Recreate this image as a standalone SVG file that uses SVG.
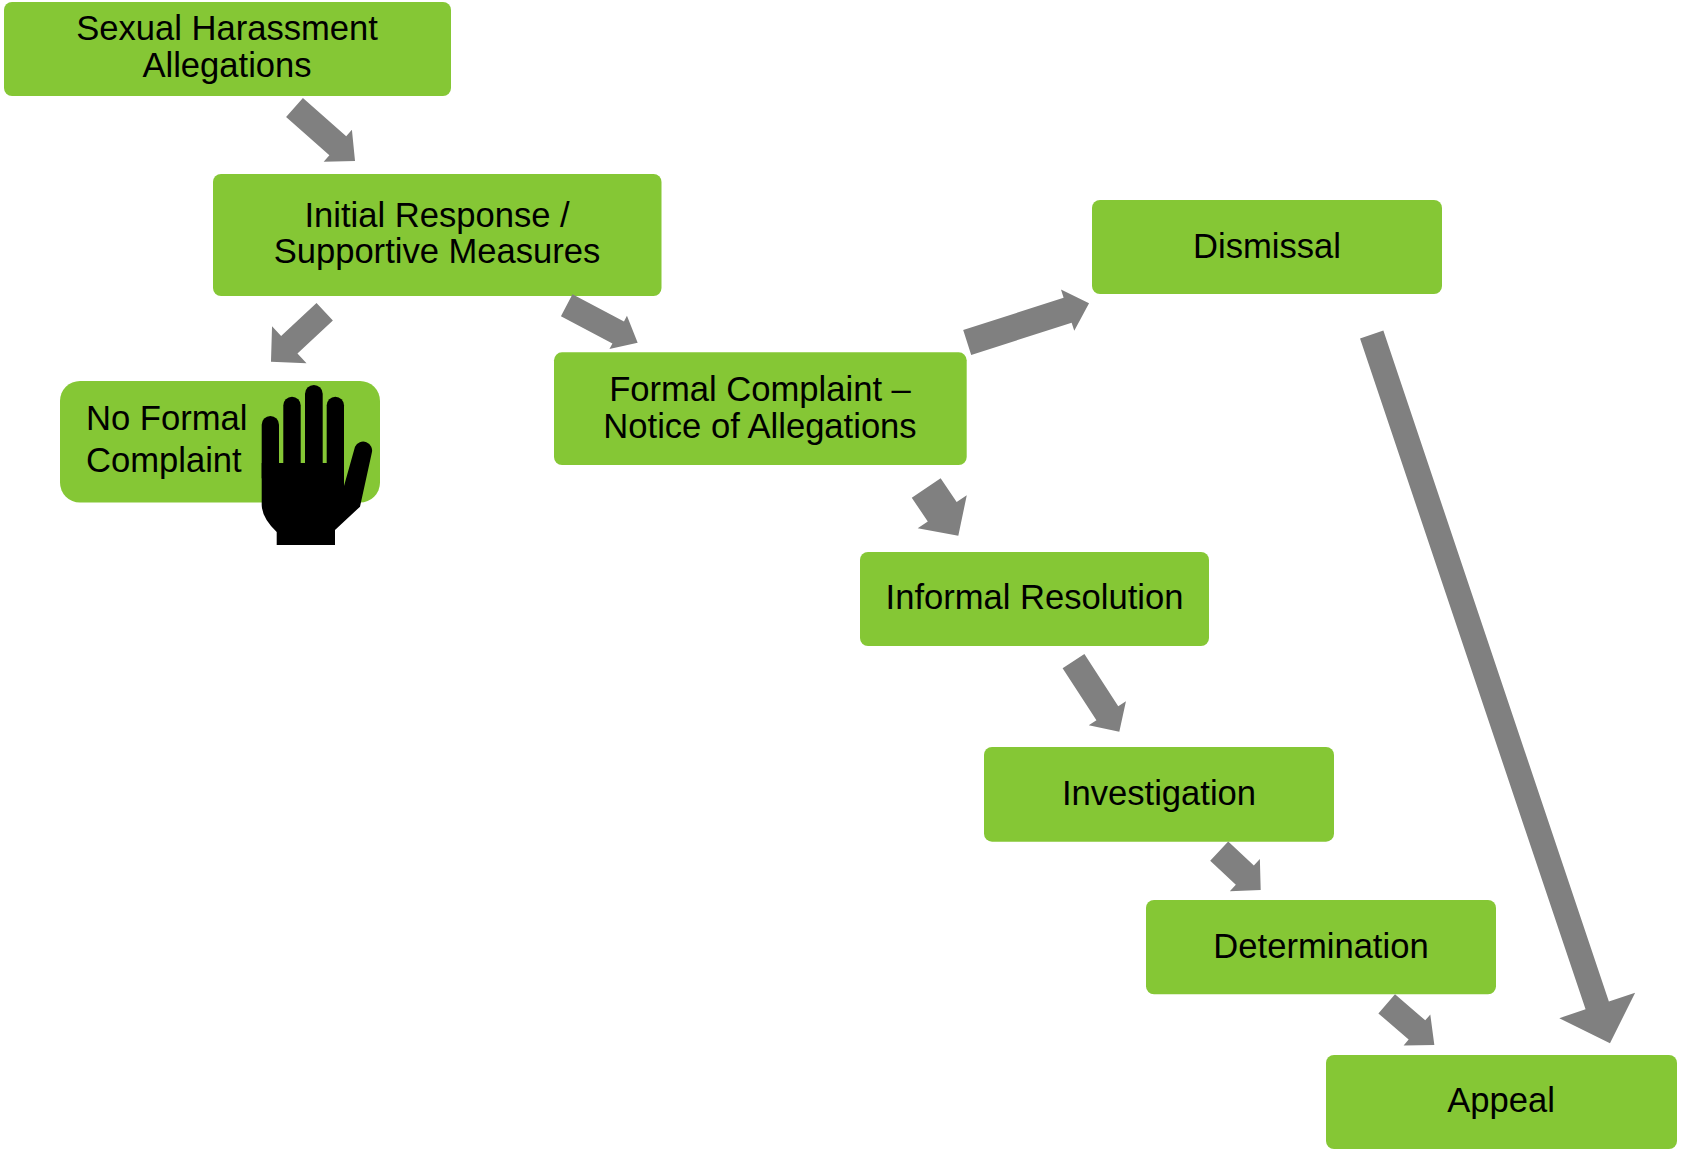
<svg xmlns="http://www.w3.org/2000/svg" width="1681" height="1153" viewBox="0 0 1681 1153">
<style>
.box{fill:#85C735;}
.t{font-family:"Liberation Sans",Arial,sans-serif;font-size:34.6px;fill:#000;text-anchor:middle;}
.tl{text-anchor:start;}
.arr{fill:#808080;}
</style>
<rect width="1681" height="1153" fill="#fff"/>
<g id="n-allegations">
<rect class="box" x="4" y="2" width="447" height="94" rx="8"/>
<text class="t" x="227" y="40">Sexual Harassment</text>
<text class="t" x="227" y="77">Allegations</text>
</g>
<g id="n-initial">
<rect class="box" x="213" y="174" width="448.5" height="122" rx="8"/>
<text class="t" x="437" y="226.7">Initial Response /</text>
<text class="t" x="437" y="263">Supportive Measures</text>
</g>
<g id="n-noformal">
<rect class="box" x="60" y="381" width="320" height="121.5" rx="20"/>
<text class="t tl" x="86" y="430">No Formal</text>
<text class="t tl" x="86" y="472">Complaint</text>
<g id="hand" fill="#000">
<rect x="261.7" y="416" width="17.3" height="70" rx="8.65"/>
<rect x="283.3" y="396.7" width="17.4" height="80" rx="8.7"/>
<rect x="305" y="385" width="17.7" height="90" rx="8.85"/>
<rect x="326.7" y="396.7" width="17.3" height="80" rx="8.65"/>
<path d="M261.7,463 L344,463 L344,486 L355,446.7 A9,9 0 0 1 371.7,453.3 L360,506.7 L335,530 L335,545 L276.7,545 L276.7,532 Q262,518 261.7,505 Z"/>
</g>
</g>
<g id="n-formal">
<rect class="box" x="554" y="352.3" width="412.7" height="112.7" rx="8"/>
<text class="t" x="760" y="401">Formal Complaint –</text>
<text class="t" x="760" y="437.5">Notice of Allegations</text>
</g>
<g id="n-dismissal">
<rect class="box" x="1092" y="200" width="350" height="94" rx="8"/>
<text class="t" x="1267" y="258">Dismissal</text>
</g>
<g id="n-informal">
<rect class="box" x="860" y="552" width="349" height="94" rx="8"/>
<text class="t" x="1034.5" y="609">Informal Resolution</text>
</g>
<g id="n-investigation">
<rect class="box" x="984" y="747" width="350" height="94.7" rx="8"/>
<text class="t" x="1159" y="805">Investigation</text>
</g>
<g id="n-determination">
<rect class="box" x="1146" y="900" width="350" height="94.3" rx="8"/>
<text class="t" x="1321" y="957.5">Determination</text>
</g>
<g id="n-appeal">
<rect class="box" x="1326" y="1055" width="351" height="94" rx="8"/>
<text class="t" x="1501" y="1112">Appeal</text>
</g>
<g id="connectors">
<polygon class="arr" transform="translate(294.5 107.5) rotate(41.49)" points="0,-12.7 57.8,-12.7 57.8,-21.3 80.8,0 57.8,21.3 57.8,12.7 0,12.7"/>
<polygon class="arr" transform="translate(324.7 311.7) rotate(137.04)" points="0,-12 48.4,-12 48.4,-25.3 73.4,0 48.4,25.3 48.4,12 0,12"/>
<polygon class="arr" transform="translate(566.7 305.3) rotate(27.78)" points="0,-12.4 58.2,-12.4 58.2,-18.8 80.2,0 58.2,18.8 58.2,12.4 0,12.4"/>
<polygon class="arr" transform="translate(967.2 342.5) rotate(-17.84)" points="0,-13.1 105.5,-13.1 105.5,-21.7 128,0 105.5,21.7 105.5,13.1 0,13.1"/>
<polygon class="arr" transform="translate(926.2 488) rotate(56.06)" points="0,-17.4 28.7,-17.4 28.7,-29.6 57.5,0 28.7,29.6 28.7,17.4 0,17.4"/>
<polygon class="arr" transform="translate(1073.5 661.2) rotate(56.99)" points="0,-13 62.1,-13 62.1,-22.2 84.1,0 62.1,22.2 62.1,13 0,13"/>
<polygon class="arr" transform="translate(1219.2 851.2) rotate(43.07)" points="0,-13.2 35.1,-13.2 35.1,-22 56.8,0 35.1,22 35.1,13.2 0,13.2"/>
<polygon class="arr" transform="translate(1386.7 1003.8) rotate(40.87)" points="0,-12.7 40,-12.7 40,-20.4 63,0 40,20.4 40,12.7 0,12.7"/>
<polygon class="arr" transform="translate(1371.7 334.5) rotate(71.42)" points="0,-12.3 707.8,-12.3 707.8,-40 747.8,0 707.8,40 707.8,12.3 0,12.3"/>
</g>
</svg>
